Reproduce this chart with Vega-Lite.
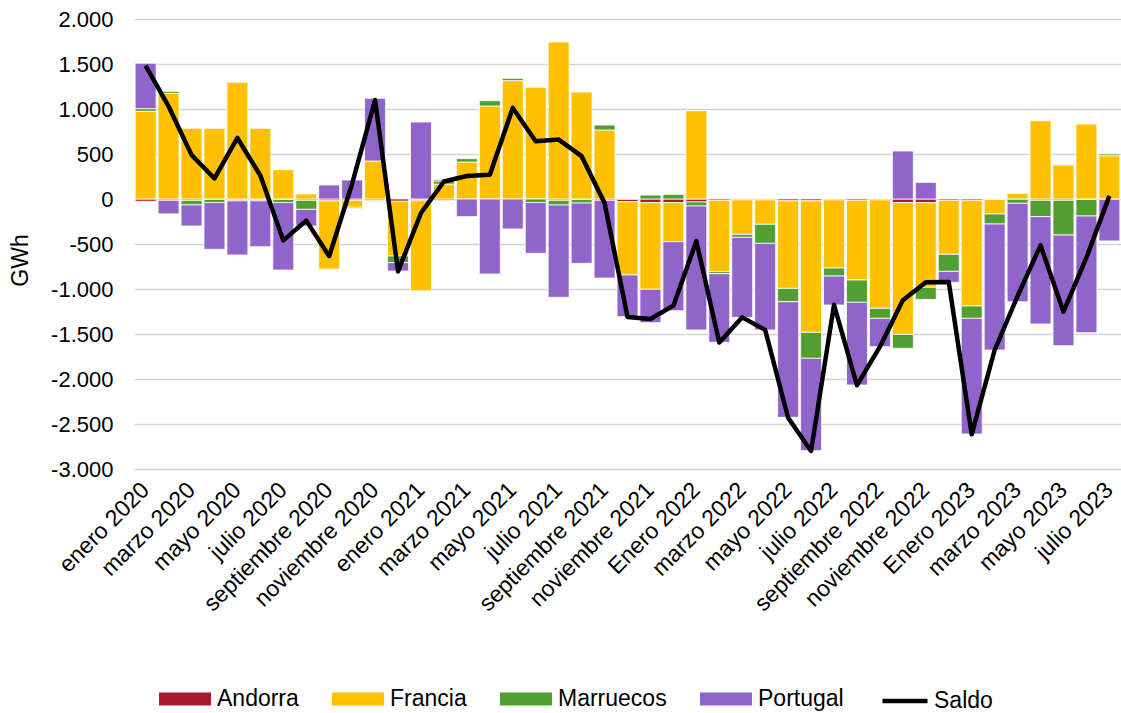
{
  "$schema": "https://vega.github.io/schema/vega-lite/v6.json",
  "width": 987,
  "height": 450,
  "autosize": {"type": "none"},
  "padding": {"left": 134, "top": 19, "right": 0, "bottom": 244},
  "background": "white",
  "config": {
    "locale": {"number": {"decimal": ",", "thousands": ".", "grouping": [3], "currency": ["", " €"], "minus": "-"}},
    "font": "Liberation Sans",
    "view": {"stroke": null},
    "axis": {"labelFont": "Liberation Sans", "titleFont": "Liberation Sans", "labelColor": "black", "titleColor": "black", "labelFontSize": 22, "titleFontSize": 23, "titleFontWeight": "normal", "domain": false, "ticks": false},
    "legend": {"labelFont": "Liberation Sans", "labelFontSize": 23, "labelColor": "black"}
  },
  "data": {"values": [
    {"mes": "enero 2020", "Andorra": -25, "Francia": 974, "Marruecos": 30, "Portugal": 504, "Saldo": 1483},
    {"mes": "febrero 2020", "Andorra": -15, "Francia": 1174, "Marruecos": 22, "Portugal": -150, "Saldo": 1030},
    {"mes": "marzo 2020", "Andorra": -15, "Francia": 785, "Marruecos": -50, "Portugal": -235, "Saldo": 490},
    {"mes": "abril 2020", "Andorra": -5, "Francia": 785, "Marruecos": -35, "Portugal": -519, "Saldo": 228},
    {"mes": "mayo 2020", "Andorra": -5, "Francia": 1296, "Marruecos": -15, "Portugal": -602, "Saldo": 678},
    {"mes": "junio 2020", "Andorra": -5, "Francia": 785, "Marruecos": -15, "Portugal": -510, "Saldo": 260},
    {"mes": "julio 2020", "Andorra": -5, "Francia": 326, "Marruecos": -35, "Portugal": -749, "Saldo": -460},
    {"mes": "agosto 2020", "Andorra": -15, "Francia": 56, "Marruecos": -100, "Portugal": -185, "Saldo": -240},
    {"mes": "septiembre 2020", "Andorra": -20, "Francia": -761, "Marruecos": -5, "Portugal": 156, "Saldo": -635},
    {"mes": "octubre 2020", "Andorra": -15, "Francia": -77, "Marruecos": -13, "Portugal": 211, "Saldo": 170},
    {"mes": "noviembre 2020", "Andorra": -15, "Francia": 422, "Marruecos": -10, "Portugal": 697, "Saldo": 1100},
    {"mes": "diciembre 2020", "Andorra": -25, "Francia": -608, "Marruecos": -75, "Portugal": -92, "Saldo": -805},
    {"mes": "enero 2021", "Andorra": -20, "Francia": -1000, "Marruecos": 0, "Portugal": 855, "Saldo": -155},
    {"mes": "febrero 2021", "Andorra": -15, "Francia": 165, "Marruecos": 35, "Portugal": 15, "Saldo": 195},
    {"mes": "marzo 2021", "Andorra": 0, "Francia": 411, "Marruecos": 37, "Portugal": -196, "Saldo": 255},
    {"mes": "abril 2021", "Andorra": 0, "Francia": 1033, "Marruecos": 59, "Portugal": -833, "Saldo": 270},
    {"mes": "mayo 2021", "Andorra": 0, "Francia": 1315, "Marruecos": 26, "Portugal": -333, "Saldo": 1012},
    {"mes": "junio 2021", "Andorra": 0, "Francia": 1241, "Marruecos": -40, "Portugal": -563, "Saldo": 642},
    {"mes": "julio 2021", "Andorra": -15, "Francia": 1744, "Marruecos": -52, "Portugal": -1025, "Saldo": 660},
    {"mes": "agosto 2021", "Andorra": -5, "Francia": 1189, "Marruecos": -40, "Portugal": -670, "Saldo": 476},
    {"mes": "septiembre 2021", "Andorra": -15, "Francia": 767, "Marruecos": 55, "Portugal": -863, "Saldo": -45},
    {"mes": "octubre 2021", "Andorra": -30, "Francia": -814, "Marruecos": 0, "Portugal": -463, "Saldo": -1310},
    {"mes": "noviembre 2021", "Andorra": -41, "Francia": -962, "Marruecos": 44, "Portugal": -371, "Saldo": -1333},
    {"mes": "diciembre 2021", "Andorra": -41, "Francia": -433, "Marruecos": 52, "Portugal": -767, "Saldo": -1185},
    {"mes": "Enero 2022", "Andorra": -33, "Francia": 981, "Marruecos": -45, "Portugal": -1377, "Saldo": -468},
    {"mes": "febrero 2022", "Andorra": -15, "Francia": -792, "Marruecos": -23, "Portugal": -762, "Saldo": -1594},
    {"mes": "marzo 2022", "Andorra": -10, "Francia": -383, "Marruecos": -33, "Portugal": -889, "Saldo": -1315},
    {"mes": "abril 2022", "Andorra": -10, "Francia": -271, "Marruecos": -212, "Portugal": -962, "Saldo": -1455},
    {"mes": "mayo 2022", "Andorra": -20, "Francia": -973, "Marruecos": -148, "Portugal": -1285, "Saldo": -2430},
    {"mes": "junio 2022", "Andorra": -20, "Francia": -1462, "Marruecos": -288, "Portugal": -1026, "Saldo": -2800},
    {"mes": "julio 2022", "Andorra": -10, "Francia": -757, "Marruecos": -89, "Portugal": -322, "Saldo": -1175},
    {"mes": "agosto 2022", "Andorra": -15, "Francia": -885, "Marruecos": -248, "Portugal": -919, "Saldo": -2070},
    {"mes": "septiembre 2022", "Andorra": -10, "Francia": -1205, "Marruecos": -111, "Portugal": -315, "Saldo": -1641},
    {"mes": "octubre 2022", "Andorra": -41, "Francia": -1463, "Marruecos": -155, "Portugal": 533, "Saldo": -1124},
    {"mes": "noviembre 2022", "Andorra": -41, "Francia": -940, "Marruecos": -134, "Portugal": 185, "Saldo": -925},
    {"mes": "diciembre 2022", "Andorra": -15, "Francia": -600, "Marruecos": -189, "Portugal": -122, "Saldo": -922},
    {"mes": "Enero 2023", "Andorra": -15, "Francia": -1174, "Marruecos": -137, "Portugal": -1285, "Saldo": -2615},
    {"mes": "febrero 2023", "Andorra": -5, "Francia": -162, "Marruecos": -111, "Portugal": -1400, "Saldo": -1678},
    {"mes": "marzo 2023", "Andorra": -3, "Francia": 63, "Marruecos": -45, "Portugal": -1093, "Saldo": -1078},
    {"mes": "abril 2023", "Andorra": -15, "Francia": 870, "Marruecos": -181, "Portugal": -1193, "Saldo": -515},
    {"mes": "mayo 2023", "Andorra": -15, "Francia": 378, "Marruecos": -385, "Portugal": -1230, "Saldo": -1252},
    {"mes": "junio 2023", "Andorra": -5, "Francia": 833, "Marruecos": -184, "Portugal": -1296, "Saldo": -652},
    {"mes": "julio 2023", "Andorra": -3, "Francia": 481, "Marruecos": 19, "Portugal": -463, "Saldo": 35}
  ]},
  "layer": [
    {
      "transform": [{"fold": ["Andorra", "Francia", "Marruecos", "Portugal"], "as": ["pais", "gwh"]}],
      "mark": {"type": "bar", "stroke": "white", "strokeWidth": 0.8},
      "encoding": {
        "x": {
          "field": "mes", "type": "nominal", "title": null,
          "scale": {"domain": ["enero 2020", "febrero 2020", "marzo 2020", "abril 2020", "mayo 2020", "junio 2020", "julio 2020", "agosto 2020", "septiembre 2020", "octubre 2020", "noviembre 2020", "diciembre 2020", "enero 2021", "febrero 2021", "marzo 2021", "abril 2021", "mayo 2021", "junio 2021", "julio 2021", "agosto 2021", "septiembre 2021", "octubre 2021", "noviembre 2021", "diciembre 2021", "Enero 2022", "febrero 2022", "marzo 2022", "abril 2022", "mayo 2022", "junio 2022", "julio 2022", "agosto 2022", "septiembre 2022", "octubre 2022", "noviembre 2022", "diciembre 2022", "Enero 2023", "febrero 2023", "marzo 2023", "abril 2023", "mayo 2023", "junio 2023", "julio 2023"], "paddingInner": 0.087, "paddingOuter": 0.05},
          "axis": {
            "values": ["enero 2020", "marzo 2020", "mayo 2020", "julio 2020", "septiembre 2020", "noviembre 2020", "enero 2021", "marzo 2021", "mayo 2021", "julio 2021", "septiembre 2021", "noviembre 2021", "Enero 2022", "marzo 2022", "mayo 2022", "julio 2022", "septiembre 2022", "noviembre 2022", "Enero 2023", "marzo 2023", "mayo 2023", "julio 2023"],
            "labelAngle": -45, "labelAlign": "right", "labelBaseline": "middle", "labelPadding": 17, "labelFontSize": 23, "grid": false, "labelOverlap": false, "labelLimit": 400
          }
        },
        "y": {
          "field": "gwh", "type": "quantitative", "stack": "zero", "title": "GWh",
          "scale": {"domain": [-3000, 2000], "nice": false, "zero": false},
          "axis": {
            "values": [-3000, -2500, -2000, -1500, -1000, -500, 0, 500, 1000, 1500, 2000],
            "format": ",.0f", "labelPadding": 21, "grid": true, "gridColor": "#d4d4d4", "gridWidth": 1.5,
            "titleAngle": -90, "titleX": -114, "titleY": 241, "titleAlign": "center", "titleBaseline": "middle"
          }
        },
        "color": {
          "field": "pais", "type": "nominal",
          "scale": {"domain": ["Andorra", "Francia", "Marruecos", "Portugal"], "range": ["#A61B30", "#FFC000", "#519E31", "#9064CB"]},
          "legend": {
            "title": null, "orient": "none", "direction": "horizontal", "legendX": 25, "legendY": 654,
            "symbolType": "M-1,-0.25H1V0.25H-1Z", "symbolSize": 2704, "symbolStrokeWidth": 0, "symbolOpacity": 1,
            "labelOffset": 6, "columnPadding": 33
          }
        },
        "order": {"field": "pais", "sort": "ascending"}
      }
    },
    {
      "mark": {"type": "line", "strokeWidth": 4.5, "strokeJoin": "round", "strokeCap": "butt"},
      "encoding": {
        "x": {"field": "mes", "type": "nominal", "title": null},
        "y": {"field": "Saldo", "type": "quantitative", "title": "GWh"},
        "stroke": {
          "datum": "Saldo", "type": "nominal",
          "scale": {"domain": ["Saldo"], "range": ["black"]},
          "legend": {
            "title": null, "orient": "none", "legendX": 746, "legendY": 657,
            "symbolType": "stroke", "symbolSize": 2025, "symbolStrokeWidth": 4.5, "labelOffset": 4
          }
        }
      }
    }
  ]
}
